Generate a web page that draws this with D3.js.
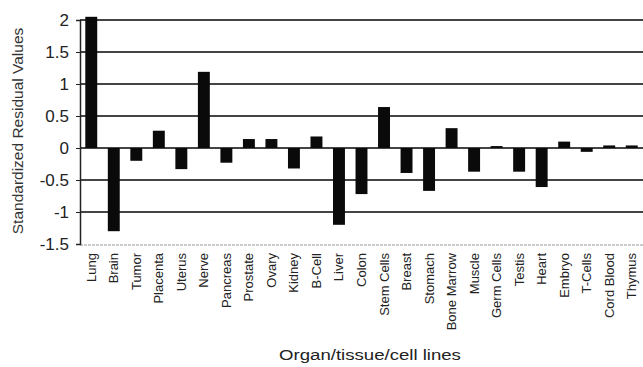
<!DOCTYPE html>
<html><head><meta charset="utf-8">
<script src="https://cdn.jsdelivr.net/npm/d3@7/dist/d3.min.js"></script>
<style>body{margin:0;background:#fff}svg{display:block;font-family:Arial,"Liberation Sans",sans-serif}</style>
</head><body><svg id="c" width="643" height="367"></svg>
<script>
const categories = ["Lung","Brain","Tumor","Placenta","Uterus","Nerve","Pancreas","Prostate","Ovary","Kidney","B-Cell","Liver","Colon","Stem Cells","Breast","Stomach","Bone Marrow","Muscle","Germ Cells","Testis","Heart","Embryo","T-Cells","Cord Blood","Thymus"];
const values = [2.05,-1.3,-0.2,0.27,-0.33,1.19,-0.23,0.14,0.14,-0.32,0.18,-1.2,-0.72,0.64,-0.39,-0.67,0.31,-0.37,0.03,-0.37,-0.61,0.1,-0.06,0.04,0.04];
const yTicks = [-1.5,-1,-0.5,0,0.5,1,1.5,2];
const yTitle = "Standardized Residual Values";
const xTitle = "Organ/tissue/cell lines";

const svg = d3.select("#c");
const x = d3.scaleBand().domain(categories).range([80,643]).paddingInner(0.47).paddingOuter(0.235);
const y = d3.scaleLinear().domain([-1.5,2]).range([244,20]);

// gridlines
svg.append("g").selectAll("line").data(yTicks.filter(t=>t>-1.5)).join("line")
  .attr("x1",80).attr("x2",643).attr("y1",d=>y(d)).attr("y2",d=>y(d))
  .attr("stroke","#444").attr("stroke-width",2.2);

// bottom light line
svg.append("line").attr("x1",80).attr("x2",643).attr("y1",y(-1.5)+1).attr("y2",y(-1.5)+1)
  .attr("stroke","#999").attr("stroke-width",1).attr("stroke-dasharray","3,1");

// bars
svg.append("g").selectAll("rect").data(values).join("rect")
  .attr("x",(d,i)=>x(categories[i]))
  .attr("width",x.bandwidth())
  .attr("y",d=>y(Math.max(0,d)))
  .attr("height",d=>Math.abs(y(d)-y(0)))
  .attr("fill","#0a0a0a");

// y axis
const ya = svg.append("g").attr("transform","translate(80,0)")
  .call(d3.axisLeft(y).tickValues(yTicks).tickSize(4).tickPadding(7).tickFormat(d=>String(d)));
ya.select(".domain").attr("stroke","#222").attr("stroke-width",1.5);
ya.selectAll(".tick line").attr("stroke","#222");
ya.selectAll("text").attr("font-size",17).attr("fill","#222").attr("font-family","Arial, 'Liberation Sans', sans-serif");

// category labels
svg.append("g").selectAll("text").data(categories).join("text")
  .attr("transform",d=>`translate(${x(d)+x.bandwidth()/2+4.5},253) rotate(-90)`)
  .attr("text-anchor","end").attr("font-size",13).attr("fill","#222").text(d=>d);

// titles
svg.append("text").attr("transform","translate(23,131) rotate(-90)").attr("text-anchor","middle")
  .attr("font-size",15.5).attr("fill","#333").text(yTitle);
svg.append("text").attr("transform","translate(370,360) scale(1.2,1)").attr("text-anchor","middle")
  .attr("font-size",15.5).attr("fill","#222").text(xTitle);
</script></body></html>
